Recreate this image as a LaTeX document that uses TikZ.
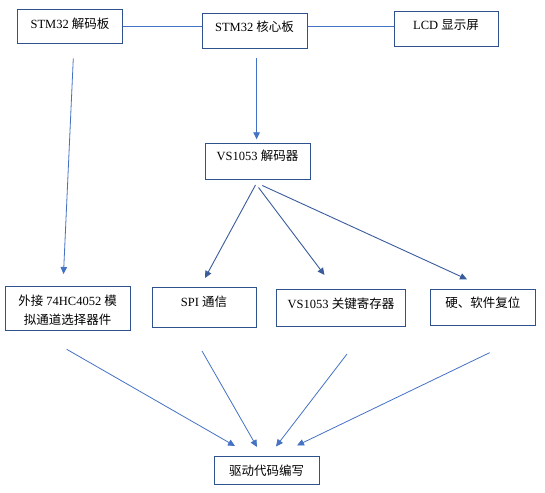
\documentclass[tikz,border=0pt]{standalone}
\usepackage{fontspec}
\setmainfont{Liberation Serif}
\newfontfamily\cjk{Noto Sans CJK SC}
\usetikzlibrary{arrows.meta}
\newcommand\zh[1]{{\cjk #1}}
\definecolor{boxblue}{HTML}{2F528F}
\definecolor{lineblue}{HTML}{4472C4}
\definecolor{darkarrow}{HTML}{3A5C9C}
\tikzset{
  box/.style={draw=boxblue, line width=1pt, fill=white, inner sep=0pt,
    font=\fontsize{12.5}{19}\selectfont, text height=10pt},
  conn/.style={draw=lineblue, line width=0.8pt},
  arr/.style={conn, -{Triangle[length=7pt,width=6.5pt]}},
  darr/.style={draw=darkarrow, line width=0.9pt, -{Triangle[length=7pt,width=6.5pt]}},
}
\begin{document}
\begin{tikzpicture}[x=1pt,y=-1pt]
\useasboundingbox (0,0) rectangle (545,492);
\fill[white] (0,0) rectangle (545,492);
% boxes
\node[box, minimum width=105.4pt, minimum height=34pt, text depth=6.5pt] (dec) at (70,26.3) {STM32 \zh{解码板}};
\node[box, minimum width=105pt, minimum height=35pt, text depth=8.7pt] (core) at (254.5,30.8) {STM32 \zh{核心板}};
\node[box, minimum width=104pt, minimum height=35pt, text depth=9.5pt] (lcd) at (446,28.8) {LCD \zh{显示屏}};
\node[box, minimum width=105pt, minimum height=36pt, text depth=11.1pt] (vs) at (257.5,161.3) {VS1053 \zh{解码器}};
\node[box, minimum width=125pt, minimum height=44.3pt, text height=36.1pt, text depth=3pt, align=center] (ext) at (67.6,308.2) {\zh{外接} 74HC4052 \zh{模}\\\zh{拟通道选择器件}};
\node[box, minimum width=104pt, minimum height=40.3pt, text depth=11.5pt] (spi) at (204,307.2) {SPI \zh{通信}};
\node[box, minimum width=128.6pt, minimum height=37pt, text depth=9.5pt] (key) at (341,307.8) {VS1053 \zh{关键寄存器}};
\node[box, minimum width=104.5pt, minimum height=36pt, text depth=9.7pt] (rst) at (482.8,307.3) {\zh{硬、软件复位}};
\node[box, minimum width=104.7pt, minimum height=28.3pt, text depth=0.7pt] (drv) at (266.7,470.8) {\zh{驱动代码编写}};
% free ends of the connectors
\coordinate (c1) at (256.6,58.3);   \coordinate (c1e) at (256.6,139.3);
\coordinate (l1) at (73.3,58.3);    \coordinate (l1e) at (63.5,274);
\coordinate (v1) at (255.5,185);    \coordinate (v1e) at (205,278);
\coordinate (v2) at (258.5,187.5);  \coordinate (v2e) at (324.5,275);
\coordinate (v3) at (262.3,185.5);  \coordinate (v3e) at (467,279.3);
\coordinate (b1) at (66.7,349.3);   \coordinate (b1e) at (235,446);
\coordinate (b2) at (202,351);      \coordinate (b2e) at (257,447);
\coordinate (b3) at (347,354);      \coordinate (b3e) at (276,446.5);
\coordinate (b4) at (489.6,352.7);  \coordinate (b4e) at (297,445.5);
% connectors
\draw[conn] (dec.east) -- (dec.east -| core.west);
\draw[conn] (core.east |- dec.east) -- (lcd.west |- dec.east);
\draw[arr] (c1) -- (c1e);
\draw[arr] (l1) -- (l1e);
\draw[darr] (v1) -- (v1e);
\draw[darr] (v2) -- (v2e);
\draw[darr] (v3) -- (v3e);
\draw[arr] (b1) -- (b1e);
\draw[arr] (b2) -- (b2e);
\draw[arr] (b3) -- (b3e);
\draw[arr] (b4) -- (b4e);
\end{tikzpicture}
\end{document}
